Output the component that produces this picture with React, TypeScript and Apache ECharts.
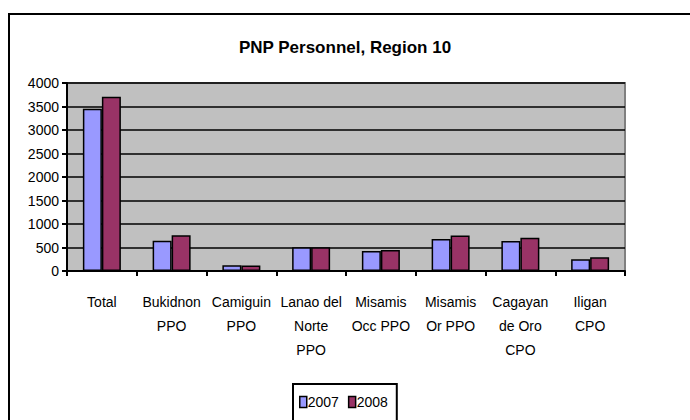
import React, { useEffect, useRef } from "react";
import * as echarts from "echarts";

const categories = [
  "Total",
  "Bukidnon\nPPO",
  "Camiguin\nPPO",
  "Lanao del\nNorte\nPPO",
  "Misamis\nOcc PPO",
  "Misamis\nOr PPO",
  "Cagayan\nde Oro\nCPO",
  "Iligan\nCPO",
];
const values2007 = [3450, 645, 120, 505, 425, 680, 640, 250];
const values2008 = [3710, 760, 115, 505, 445, 755, 710, 290];
const seriesNames = ["2007", "2008"];

export default function App() {
  const ref = useRef<HTMLDivElement>(null);
  useEffect(() => {
    if (!ref.current) return;
    const chart = echarts.init(ref.current, null, { renderer: "svg" });
    const font = "'Liberation Sans', Arial, sans-serif";
    chart.setOption({
      animation: false,
      backgroundColor: "#ffffff",
      textStyle: { fontFamily: font },
      title: {
        text: "PNP Personnel, Region 10",
        left: "center",
        top: 34,
        textStyle: { fontFamily: font, fontSize: 17, fontWeight: "bold", color: "#000" },
      },
      graphic: [
        {
          type: "rect",
          shape: { x: 9, y: 14, width: 720, height: 440 },
          style: { fill: "none", stroke: "#000", lineWidth: 2 },
          silent: true,
        },
      ],
      legend: {
        left: 293,
        top: 384,
        data: seriesNames,
        icon: "rect",
        itemWidth: 7,
        itemHeight: 11,
        itemGap: 9,
        padding: [11, 9, 30, 6],
        borderColor: "#000",
        borderWidth: 2,
        itemStyle: { borderColor: "#000", borderWidth: 1.5 },
        textStyle: { fontFamily: font, fontSize: 14, color: "#000", padding: [0, 0, 0, -4] },
      },
      grid: {
        left: 67,
        right: 65,
        top: 83,
        bottom: 149,
        show: true,
        backgroundColor: "#C0C0C0",
        borderColor: "#808080",
        borderWidth: 2,
      },
      xAxis: {
        type: "category",
        data: categories,
        boundaryGap: true,
        axisLine: { lineStyle: { color: "#000", width: 2 } },
        axisTick: { show: true, inside: false, length: 5, lineStyle: { color: "#000", width: 2 } },
        axisLabel: {
          fontFamily: font,
          fontSize: 14,
          color: "#000",
          margin: 19,
          lineHeight: 24,
          interval: 0,
          align: "center",
        },
      },
      yAxis: {
        type: "value",
        min: 0,
        max: 4000,
        interval: 500,
        axisLine: { show: true, lineStyle: { color: "#000", width: 2 } },
        axisTick: { show: true, length: 5, lineStyle: { color: "#000", width: 2 } },
        axisLabel: {
          fontFamily: font,
          fontSize: 14,
          color: "#000",
          margin: 8,
          formatter: (v: number) => String(v),
        },
        splitLine: { show: true, lineStyle: { color: "#000", width: 1.5 } },
      },
      series: [
        {
          name: seriesNames[0],
          type: "bar",
          data: values2007,
          barWidth: 19,
          barGap: "0%",
          itemStyle: { color: "#9999FF", borderColor: "#000", borderWidth: 1.5 },
        },
        {
          name: seriesNames[1],
          type: "bar",
          data: values2008,
          barWidth: 19,
          barGap: "0%",
          itemStyle: { color: "#993366", borderColor: "#000", borderWidth: 1.5 },
        },
      ],
    });
    return () => chart.dispose();
  }, []);
  return (
    <div
      ref={ref}
      style={{ position: "fixed", left: 0, top: 0, width: 690, height: 420 }}
    />
  );
}
